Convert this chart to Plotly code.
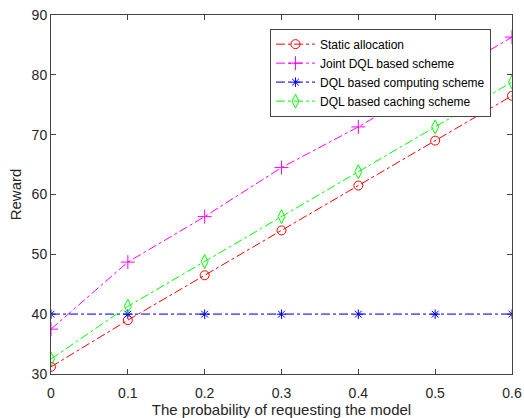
import plotly.graph_objects as go

x_vals = [0, 0.1, 0.2, 0.3, 0.4, 0.5, 0.6]
static_alloc = [31.2, 39.0, 46.5, 54.0, 61.5, 69.0, 76.5]
joint_dql = [37.5, 48.7, 56.3, 64.5, 71.3, 78.8, 86.3]
dql_computing = [40, 40, 40, 40, 40, 40, 40]
dql_caching = [32.5, 41.3, 48.8, 56.3, 63.8, 71.3, 78.8]

series = [
    ("Static allocation", static_alloc, "#FF0000", "#FF0000", "circle-open", 9, 1),
    ("Joint DQL based scheme", joint_dql, "#FF00FF", "#FF00FF", "cross-thin-open", 10, 1),
    ("DQL based computing scheme", dql_computing, "rgba(0,0,255,0.6)", "#0000FF", "asterisk-open", 8, 1.6),
    ("DQL based caching scheme", dql_caching, "#00FF00", "#00FF00", "diamond-tall-open", 10, 1),
]

fig = go.Figure()
for name, ys, lcolor, mcolor, sym, size, w in series:
    fig.add_trace(go.Scatter(
        x=x_vals, y=ys, name=name, mode="lines+markers",
        line=dict(color=lcolor, width=w, dash="dashdot"),
        marker=dict(symbol=sym, size=size, color=mcolor, line=dict(color=mcolor, width=1)),
    ))

axis_common = dict(
    showgrid=False, zeroline=False, showline=True, linecolor="#444444", linewidth=1,
    mirror="allticks", ticks="inside", ticklen=5, tickcolor="#444444",
    automargin=False,
    tickfont=dict(family="Liberation Sans, Arial", size=14, color="#262626"),
)

fig.update_layout(
    width=524, height=418,
    margin=dict(l=51, r=12, t=15, b=44),
    paper_bgcolor="white", plot_bgcolor="white",
    font=dict(family="Liberation Sans, Arial", color="#262626"),
    xaxis=dict(range=[0, 0.6], tickmode="array",
               tickvals=[0, 0.1, 0.2, 0.3, 0.4, 0.5, 0.6],
               ticktext=["0", "0.1", "0.2", "0.3", "0.4", "0.5", "0.6"],
               ticklabelstandoff=6,
               title=dict(text="The probability of requesting the model",
                          font=dict(size=15), standoff=4),
               **axis_common),
    yaxis=dict(range=[30, 90], dtick=10,
               title=dict(text="Reward", font=dict(size=15), standoff=6),
               **axis_common),
    legend=dict(x=0.475, y=0.962, xanchor="left", yanchor="top",
                bgcolor="white", bordercolor="#444444", borderwidth=1,
                font=dict(size=12, color="#000000"), tracegroupgap=0,
                itemwidth=39),
    showlegend=True,
)

fig.write_html("out.html", config={"displayModeBar": False},
               post_script="document.body.style.margin='0';")
